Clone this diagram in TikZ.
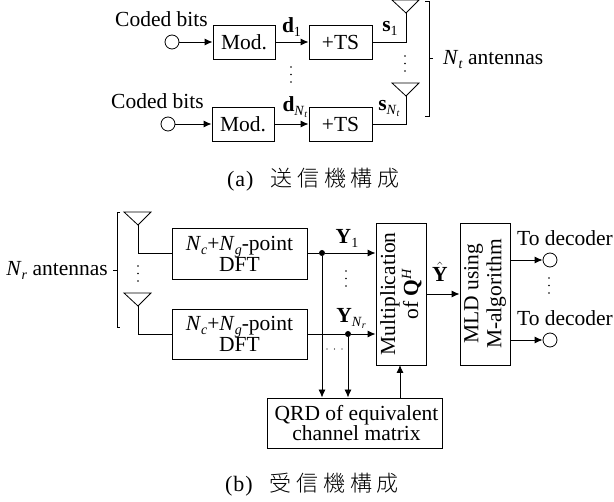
\documentclass[tikz,border=0pt]{standalone}
\usepackage{fontspec}
\setmainfont{Liberation Serif}
\newfontfamily\cjk[LetterSpace=22]{Noto Sans CJK JP Light}
\newfontfamily\capfont[LetterSpace=4]{Liberation Serif}
\usetikzlibrary{arrows.meta}
\newcommand{\fs}{\fontsize{21.5}{21}\selectfont}
\newcommand{\subs}[1]{\raisebox{-4pt}{\fontsize{14}{14}\selectfont #1}}
\newcommand{\subsub}[1]{\raisebox{-2pt}{\fontsize{10}{10}\selectfont\textit{#1}}}
\newcommand{\captxt}[2]{{\fontsize{22}{22}\selectfont\capfont #1}\hspace{17pt}{\fontsize{22}{22}\selectfont\cjk #2}}
\begin{document}
\begin{tikzpicture}[x=1pt,y=-1pt,
  font=\fs,
  boxn/.style={draw,line width=0.9pt,inner sep=0pt,align=center},
  port/.style={draw,line width=0.8pt,circle,minimum size=14pt,inner sep=0pt},
  jun/.style={fill,circle,minimum size=6pt,inner sep=0pt},
  wire/.style={line width=0.9pt},
  flow/.style={wire,-{Latex[length=8pt,width=7pt]}},
  lab/.style={inner sep=0pt},
  dotsv/.style={line width=1.6pt,line cap=round,dash pattern=on 0pt off 7.5pt},
  ant/.style={line width=0.8pt}]
\useasboundingbox (0,0) rectangle (614,502);
% ---------- (a)
\node[port] (c1) at (172,42) {};
\node[port] (c2) at (168,124) {};
\node[boxn,minimum width=62pt,minimum height=34pt] (m1) at (244,42) {Mod.};
\node[boxn,minimum width=62pt,minimum height=34pt] (m2) at (243,124) {Mod.};
\node[boxn,minimum width=63pt,minimum height=34pt] (t1) at (340.5,42) {+TS};
\node[boxn,minimum width=63pt,minimum height=34pt] (t2) at (340.5,124) {+TS};
\coordinate (a1) at (406,13);
\coordinate (a2) at (406,96);
\draw[flow] (c1) -- (m1);
\draw[flow] (c2) -- (m2);
\draw[flow] (m1) -- (t1);
\draw[flow] (m2) -- (t2);
\draw[wire] (t1) -| (a1);
\draw[wire] (t2) -| (a2);
\draw[ant] (a1) -- (392,0) -- (419,0) -- cycle;
\draw[ant] (a2) -- (392,83) -- (419,83) -- cycle;
\draw[dotsv] (291,67) -- (291,84);
\draw[dotsv] (405,56) -- (405,73);
\draw[wire] (425,1) -- (429,1) -- (429,116) -- (425,116);
\draw[wire] (429,58) -- (433,58);
\node[lab] (cb1) at (161.5,19) {Coded bits};
\node[lab] (cb2) at (157.5,101) {Coded bits};
\node[lab] (d1) at (291.5,27) {\textbf{d}\subs{1}};
\node[lab] (dn) at (295,107) {\textbf{d}\subs{\textit{N}\subsub{t}}};
\node[lab] (s1) at (390,28) {\textbf{s}\subs{1}};
\node[lab] (sn) at (389,108) {\textbf{s}\subs{\textit{N}\subsub{t}}};
\node[lab,anchor=west] (nt) at (443,60) {\textit{N}\subs{\textit{t}} antennas};
\node[lab,anchor=west] (capa) at (227,180) {\captxt{(a)}{送信機構成}};
% ---------- (b)
\node[boxn,minimum width=135pt,minimum height=51pt] (f1) at (239.5,253.5) {\textit{N}\subs{\textit{c}}+\textit{N}\subs{\textit{g}}-point\\[-1pt]DFT};
\node[boxn,minimum width=135pt,minimum height=50pt] (f2) at (239.5,334) {\textit{N}\subs{\textit{c}}+\textit{N}\subs{\textit{g}}-point\\[-1pt]DFT};
\node[boxn,minimum width=50pt,minimum height=142pt] (q) at (401,294) {};
\node[boxn,minimum width=50pt,minimum height=142pt] (l) at (485,294) {};
\node[lab,rotate=90,align=center] (qt) at (401,294) {Multiplication\\[2pt]of \textbf{Q}\raisebox{7pt}{\fontsize{14}{14}\selectfont\textit{H}}};
\node[lab,rotate=90,align=center] (lt) at (485,294) {MLD using\\[2pt]M-algorithm};
\node[boxn,minimum width=175pt,minimum height=50pt] (r) at (354.5,423) {\hspace{4pt}QRD of equivalent\\[-1pt]\hspace{4pt}channel matrix};
\node[port] (o1) at (550,260) {};
\node[port] (o2) at (550,340) {};
\coordinate (b1) at (138,225);
\coordinate (b2) at (138,306);
\draw[wire] (b1) |- (f1.west |- 0,253);
\draw[wire] (b2) |- (f2.west);
\draw[ant] (b1) -- (124,212) -- (151,212) -- cycle;
\draw[ant] (b2) -- (124,293) -- (151,293) -- cycle;
\node[jun] (j1) at (322,253) {};
\node[jun] (j2) at (348,334) {};
\draw[wire] (f1.east |- j1) -- (j1);
\draw[wire] (f2.east) -- (j2);
\draw[flow] (j1) -- (q.west |- j1);
\draw[flow] (j2) -- (q.west |- j2);
\draw[flow] (j1) -- (r.north -| j1);
\draw[flow] (j2) -- (r.north -| j2);
\draw[flow] (400,398) -- (400,365);
\draw[flow] (q.east |- 0,294) -- (l.west |- 0,294);
\draw[flow] (l.east |- o1) -- (o1);
\draw[flow] (l.east |- o2) -- (o2);
\draw[dotsv] (138,266) -- (138,283);
\draw[dotsv] (346,271) -- (346,288);
\draw[dotsv] (549,278) -- (549,294);
\draw[line width=1.4pt,line cap=round,dash pattern=on 0pt off 7.5pt] (327,349) -- (344,349);
\draw[wire] (120,212) -- (117,212) -- (117,327) -- (120,327);
\draw[wire] (113,270) -- (117,270);
\node[lab] (y1) at (347,238) {\textbf{Y}\subs{1}};
\node[lab] (yn) at (351,318) {\textbf{Y}\subs{\textit{N}\subsub{r}}};
\node[lab] (yh) at (440,272) {$\hat{\textbf{Y}}$};
\node[lab,anchor=east] (nr) at (108,270) {\textit{N}\subs{\textit{r}} antennas};
\node[lab] (td1) at (565,238) {To decoder};
\node[lab] (td2) at (565,318) {To decoder};
\node[lab,anchor=west] (capb) at (225,485) {\captxt{(b)}{受信機構成}};
\end{tikzpicture}
\end{document}
